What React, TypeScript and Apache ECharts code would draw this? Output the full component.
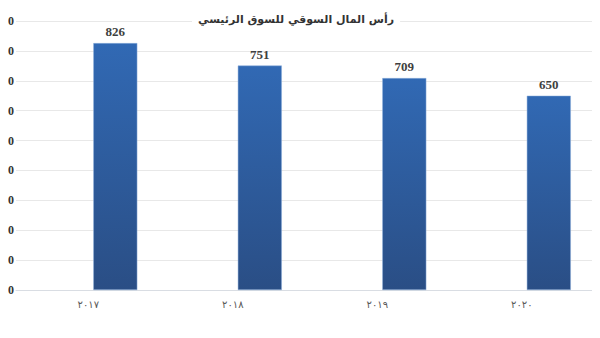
import React, { useEffect, useRef } from "react";
import * as echarts from "echarts";

const titleText = "رأس المال السوقي للسوق الرئيسي";
const categories = ["٢٠١٧", "٢٠١٨", "٢٠١٩", "٢٠٢٠"];
const values = [826, 751, 709, 650];
const placeholder = [null, null, null, null];
const yMin = 0;
const yMax = 900;
const yInterval = 100;

const serif = "Liberation Serif, Times New Roman, serif";
const shift = 30;

export default function App() {
  const ref = useRef<HTMLDivElement>(null);
  useEffect(() => {
    if (!ref.current) return;
    const chart = echarts.init(ref.current, null, { renderer: "svg" });
    chart.setOption({
      animation: false,
      backgroundColor: "#ffffff",
      title: {
        text: titleText,
        left: 192 + shift,
        top: 13,
        backgroundColor: "#ffffff",
        padding: [1, 6],
        textStyle: {
          fontFamily: "DejaVu Sans, sans-serif",
          fontSize: 11,
          fontWeight: "bold",
          color: "#333333",
        },
      },
      grid: { left: 16 + shift, right: 6, top: 21, bottom: 48 },
      xAxis: {
        type: "category",
        data: categories,
        axisLine: { show: true, lineStyle: { color: "#d9dde3", width: 1 } },
        axisTick: { show: false },
        axisLabel: {
          margin: 9,
          fontSize: 10,
          color: "#595959",
          fontFamily: "DejaVu Sans, sans-serif",
        },
        splitLine: { show: false },
      },
      yAxis: {
        type: "value",
        min: yMin,
        max: yMax,
        interval: yInterval,
        axisLine: { show: false },
        axisTick: { show: false },
        axisLabel: {
          margin: 2,
          fontSize: 12,
          fontWeight: "bold",
          color: "#333333",
          fontFamily: serif,
        },
        splitLine: { lineStyle: { color: "#e8e8e8", width: 1 } },
      },
      series: [
        {
          type: "bar",
          data: placeholder,
          barWidth: 44,
          barGap: "23%",
          silent: true,
        },
        {
          type: "bar",
          data: values,
          barWidth: 44,
          barGap: "23%",
          itemStyle: {
            color: new echarts.graphic.LinearGradient(0, 0, 0, 1, [
              { offset: 0, color: "#3169b4" },
              { offset: 1, color: "#2a4e85" },
            ]),
            borderColor: "#8fb0dc",
            borderWidth: 0.5,
          },
          label: {
            show: true,
            position: "top",
            distance: 5,
            fontSize: 13,
            fontWeight: "bold",
            color: "#404040",
            fontFamily: serif,
          },
        },
      ],
    });
    return () => chart.dispose();
  }, []);
  return (
    <div style={{ width: 600, height: 338, overflow: "hidden", margin: -8, position: "relative" }}>
      <div ref={ref} style={{ width: 600 + shift, height: 338, position: "absolute", left: -shift, top: 0 }} />
    </div>
  );
}
